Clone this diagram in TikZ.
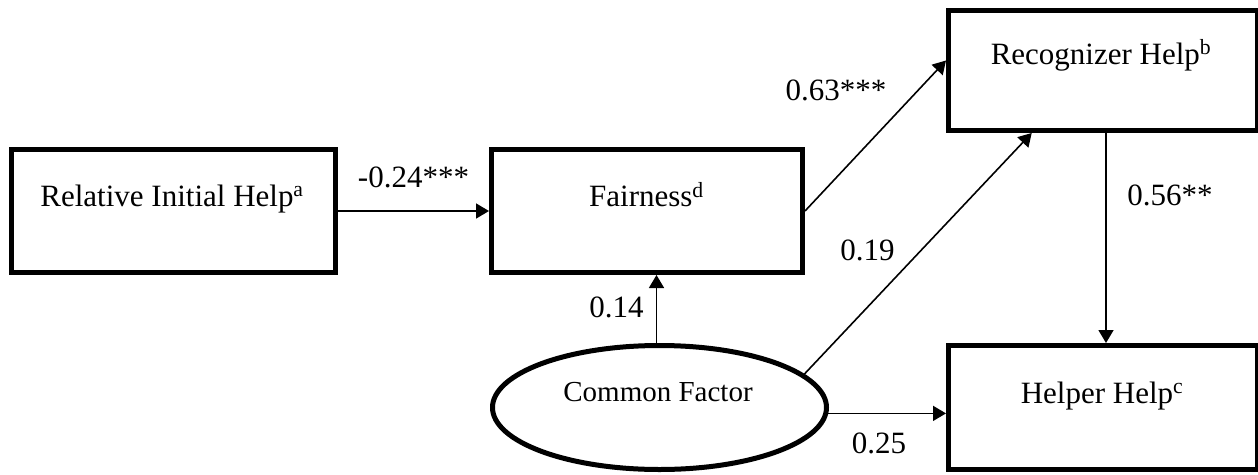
\documentclass[tikz,border=0pt]{standalone}
\usepackage{fontspec}
\setmainfont{Liberation Serif}
\usetikzlibrary{arrows.meta,shapes.geometric,calc}
\begin{document}
\begin{tikzpicture}[x=1pt,y=-1pt,
  box/.style={draw=black, line width=5pt, rectangle, inner sep=0pt},
  latent/.style={draw=black, line width=5pt, ellipse, inner sep=0pt},
  txt/.style={anchor=base, inner sep=0pt, font=\fontsize{31}{37}\selectfont},
  smalltxt/.style={anchor=base, inner sep=0pt, font=\fontsize{29}{35}\selectfont},
  coef/.style={anchor=base, inner sep=0pt, font=\fontsize{31}{37}\selectfont},
  effect/.style={line width=1.6pt, -{Triangle[length=13pt,width=15pt]}}
]
\useasboundingbox (0,0) rectangle (1258,474);

% observed variables and the latent factor
\node[box, minimum width=324pt, minimum height=123pt] (rel) at (173.5,211) {};
\node[box, minimum width=311pt, minimum height=123pt] (fair) at (647,211) {};
\node[box, minimum width=309pt, minimum height=120pt] (rec) at (1103,70.5) {};
\node[box, minimum width=309pt, minimum height=124pt] (help) at (1103,407.5) {};
\node[latent, minimum width=334pt, minimum height=124pt] (cf) at (659.5,407.5) {};

% variable names
\node[txt] (relT) at (172,206) {Relative Initial Help\textsuperscript{a}};
\node[txt] (fairT) at (646.5,206.5) {Fairness\textsuperscript{d}};
\node[txt] (recT) at (1101,64) {Recognizer Help\textsuperscript{b}};
\node[txt] (helpT) at (1102,403) {Helper Help\textsuperscript{c}};
\node[smalltxt] (cfT) at (658,401.5) {Common Factor};

% paths between variables
\draw[effect] (rel.east) -- (fair.west);
\draw[effect] (fair.east) -- ($(rec.north west)!0.42!(rec.south west)$);
\draw[effect] (cf.13.4) -- ($(rec.south west)!0.273!(rec.south east)$);
\draw[effect] ([xshift=-3pt]cf.north) -- ([xshift=-3pt]cf.north |- fair.south);
\draw[effect] (cf.-2) -- (cf.-2 -| help.west);
\draw[effect] ([xshift=3pt]rec.south) -- ([xshift=3pt]rec.south |- help.north);

% path coefficients
\node[coef] (c1) at (413.5,187) {-0.24***};
\node[coef] (c2) at (836,100) {0.63***};
\node[coef] (c3) at (867.5,260) {0.19};
\node[coef] (c4) at (616.5,317) {0.14};
\node[coef] (c5) at (879,453) {0.25};
\node[coef] (c6) at (1170,205) {0.56**};
\end{tikzpicture}
\end{document}
